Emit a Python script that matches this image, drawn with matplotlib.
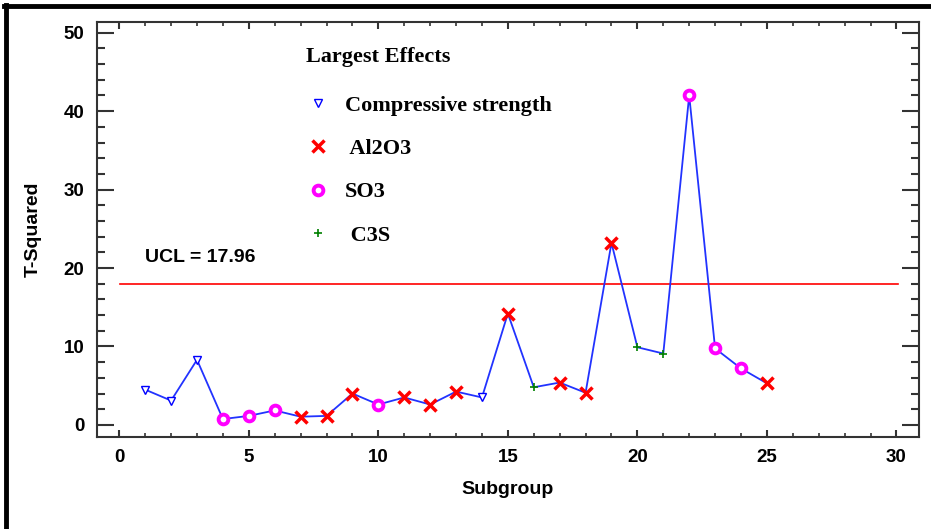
import matplotlib
matplotlib.use('Agg')
import matplotlib.pyplot as plt
from matplotlib.lines import Line2D
from matplotlib.ticker import MultipleLocator

# T-squared value per subgroup, grouped by the variable flagged as largest effect
subgroup = [1, 2, 3, 4, 5, 6, 7, 8, 9, 10, 11, 12, 13, 14, 15, 16, 17, 18, 19, 20, 21, 22, 23, 24, 25]
t_squared = [4.5, 3.1, 8.3, 0.75, 1.15, 1.85, 1.05, 1.15, 4.0, 2.6, 3.5, 2.6, 4.25, 3.5, 14.2,
             4.8, 5.4, 4.1, 23.2, 9.9, 9.1, 42.0, 9.75, 7.2, 5.3]
effect = ['CS', 'CS', 'CS', 'SO3', 'SO3', 'SO3', 'Al2O3', 'Al2O3', 'Al2O3', 'SO3', 'Al2O3', 'Al2O3',
          'Al2O3', 'CS', 'Al2O3', 'C3S', 'Al2O3', 'Al2O3', 'Al2O3', 'C3S', 'C3S', 'SO3', 'SO3', 'SO3', 'Al2O3']
ucl = 17.96

legend_labels = {'CS': 'Compressive strength', 'Al2O3': ' Al2O3', 'SO3': 'SO3', 'C3S': ' C3S'}
styles = {
    'CS': dict(marker='v', color='blue', mfc='white', mec='blue', ms=6, mew=1.0),
    'Al2O3': dict(marker='x', color='red', mec='red', ms=9, mew=2.5),
    'SO3': dict(marker='o', color='magenta', mfc='white', mec='magenta', ms=7, mew=2.8),
    'C3S': dict(marker='+', color='green', mec='green', ms=6, mew=1.2),
}

fig = plt.figure(figsize=(9.31, 5.29), dpi=100)
ax = fig.add_axes([0.1042, 0.1745, 0.8826, 0.7845])

ax.plot(subgroup, t_squared, color='#2233ff', lw=1.3, zorder=2)
ax.axhline(ucl, xmin=0.028, xmax=0.9745, color='red', lw=1.2, zorder=1)
ax.text(1, ucl + 2.3, 'UCL = %.2f' % ucl, fontsize=14, fontweight='bold',
        family='Liberation Sans', va='bottom', ha='left')

handles = []
for key in ['CS', 'Al2O3', 'SO3', 'C3S']:
    xs = [s for s, e in zip(subgroup, effect) if e == key]
    ys = [t for t, e in zip(t_squared, effect) if e == key]
    st = dict(styles[key])
    ax.plot(xs, ys, linestyle='none', zorder=3, **st)
    h = Line2D([], [], linestyle='none', **st)
    handles.append(h)

leg = ax.legend(handles, [legend_labels[k] for k in ['CS', 'Al2O3', 'SO3', 'C3S']],
                title='Largest Effects', loc='upper left', bbox_to_anchor=(0.244, 0.96),
                frameon=False, alignment='left', handletextpad=0.75, labelspacing=1.03,
                handlelength=1.0, borderaxespad=0,
                prop=dict(family='Liberation Serif', weight='bold', size=16),
                title_fontproperties=dict(family='Liberation Serif', weight='bold', size=16))
leg._legend_box.sep = 20

ax.set_xlim(-0.86, 30.86)
ax.set_ylim(-1.5, 51.4)
ax.xaxis.set_major_locator(MultipleLocator(5))
ax.xaxis.set_minor_locator(MultipleLocator(1))
ax.yaxis.set_major_locator(MultipleLocator(10))
ax.yaxis.set_minor_locator(MultipleLocator(2))
ax.tick_params(axis='both', which='both', direction='in', top=True, right=True, color='#333333')
ax.tick_params(axis='y', which='major', length=12, width=1.5, pad=9)
ax.tick_params(axis='y', which='minor', length=6, width=1.5)
ax.tick_params(axis='x', which='major', length=5, width=1.5, pad=9)
ax.tick_params(axis='x', which='minor', length=3, width=1.2)
for lab in ax.get_xticklabels() + ax.get_yticklabels():
    lab.set_fontsize(13.5)
    lab.set_fontweight('bold')
    lab.set_family('Liberation Sans')
for sp in ax.spines.values():
    sp.set_color('#333333')
    sp.set_linewidth(1.5)

ax.set_xlabel('Subgroup', fontsize=14, fontweight='bold', family='Liberation Sans', labelpad=11)
ax.set_ylabel('T-Squared', fontsize=14, fontweight='bold', family='Liberation Sans', labelpad=16)

# screenshot frame on the left and top
fig.add_artist(Line2D([0.0065, 0.0065], [0, 0.99], color='black', lw=3.5, transform=fig.transFigure))
fig.add_artist(Line2D([0.0048, 1], [0.9895, 0.9895], color='black', lw=3.5, transform=fig.transFigure))

fig.savefig('out.png', dpi=100)
